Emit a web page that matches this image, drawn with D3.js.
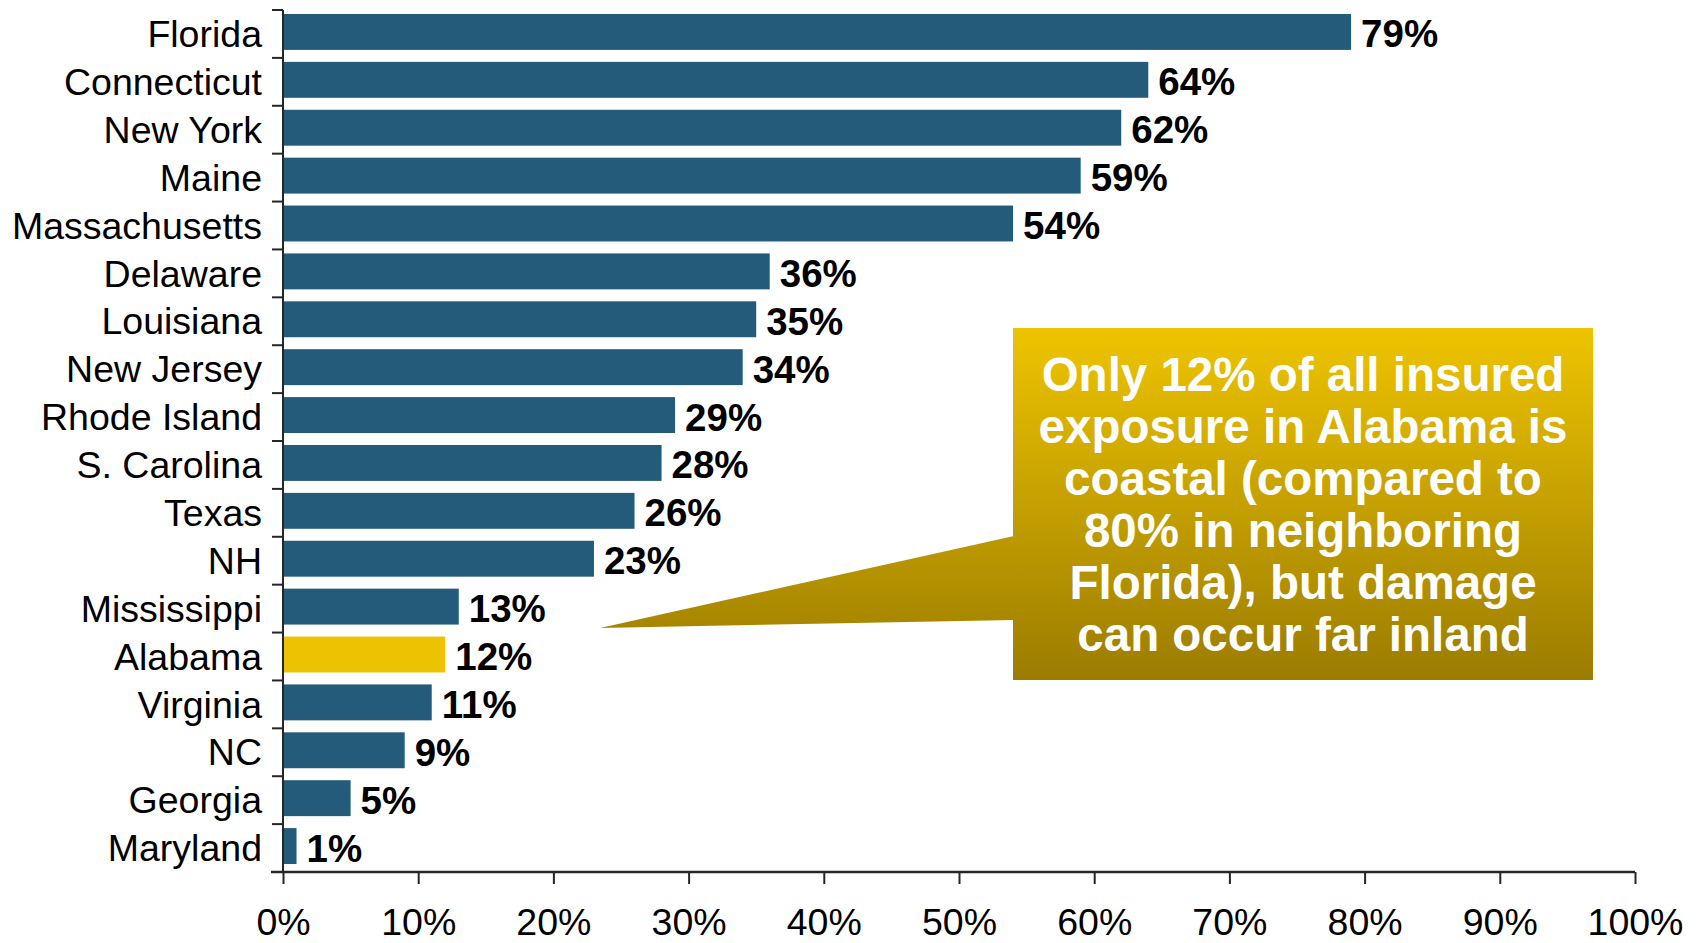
<!DOCTYPE html>
<html>
<head>
<meta charset="utf-8">
<script src="https://cdn.jsdelivr.net/npm/d3@7"></script>
<style>
  html, body { margin: 0; padding: 0; background: #fff; }
  svg { display: block; font-family: "Liberation Sans", Arial, sans-serif; }
</style>
</head>
<body>
<div id="chart"></div>
<script>
// share of insured exposure that is coastal, by state
const states = ['Florida', 'Connecticut', 'New York', 'Maine', 'Massachusetts', 'Delaware',
    'Louisiana', 'New Jersey', 'Rhode Island', 'S. Carolina', 'Texas', 'NH',
    'Mississippi', 'Alabama', 'Virginia', 'NC', 'Georgia', 'Maryland'];
const shares = [79, 64, 62, 59, 54, 36, 35, 34, 29, 28, 26, 23, 13, 12, 11, 9, 5, 1];
const highlight = 'Alabama';
const xTicks = [0, 10, 20, 30, 40, 50, 60, 70, 80, 90, 100];
const calloutLines = [
    'Only 12% of all insured',
    'exposure in Alabama is',
    'coastal (compared to',
    '80% in neighboring',
    'Florida), but damage',
    'can occur far inland'
];

const width = 1698, height = 943;
const margin = { top: 10, right: 63, bottom: 71, left: 283 };
const innerW = width - margin.left - margin.right;
const innerH = height - margin.top - margin.bottom;

const data = states.map((s, i) => ({ state: s, value: shares[i] }));

const svg = d3.select('#chart')
    .append('svg')
    .attr('width', width)
    .attr('height', height);

// gradient for the callout
const defs = svg.append('defs');
const grad = defs.append('linearGradient')
    .attr('id', 'gold')
    .attr('gradientUnits', 'userSpaceOnUse')
    .attr('x1', 0).attr('x2', 0)
    .attr('y1', 328).attr('y2', 680);
grad.append('stop').attr('offset', '0%').attr('stop-color', '#EEC400');
grad.append('stop').attr('offset', '100%').attr('stop-color', '#9B7C00');

const g = svg.append('g')
    .attr('transform', `translate(${margin.left},${margin.top})`);

// Scales
const x = d3.scaleLinear().domain([0, 100]).range([0, innerW]);
const y = d3.scaleBand()
    .domain(states)
    .range([0, innerH])
    .paddingInner(0.25)
    .paddingOuter(0.125);

// Bars
g.append('g')
    .attr('transform', 'translate(0,-2)')
    .selectAll('rect')
    .data(data)
    .enter()
    .append('rect')
    .attr('x', 0)
    .attr('y', d => y(d.state))
    .attr('width', d => x(d.value))
    .attr('height', y.bandwidth())
    .attr('fill', d => d.state === highlight ? '#EDC200' : '#245B7A');

// Value labels
g.selectAll('.value-label')
    .data(data)
    .enter()
    .append('text')
    .attr('class', 'value-label')
    .attr('x', d => x(d.value) + 10)
    .attr('y', d => y(d.state) + y.bandwidth() / 2)
    .attr('dy', '0.35em')
    .style('font-size', '38.5px')
    .style('font-weight', 'bold')
    .style('fill', '#000')
    .text(d => d.value + '%');

// Y axis: category labels + ticks at band boundaries
const axisColor = '#262626';
g.append('line')
    .attr('x1', 0).attr('x2', 0)
    .attr('y1', 0).attr('y2', innerH)
    .attr('stroke', axisColor)
    .attr('stroke-width', 2);

const boundaries = states.map(s => y(s) - y.step() * y.paddingInner() / 2).concat([innerH]);
g.selectAll('.y-tick')
    .data(boundaries)
    .enter()
    .append('line')
    .attr('class', 'y-tick')
    .attr('x1', -11).attr('x2', 0)
    .attr('y1', d => d).attr('y2', d => d)
    .attr('stroke', axisColor)
    .attr('stroke-width', 2);

g.selectAll('.cat-label')
    .data(states)
    .enter()
    .append('text')
    .attr('class', 'cat-label')
    .attr('x', -21)
    .attr('y', d => y(d) + y.bandwidth() / 2)
    .attr('dy', '0.35em')
    .attr('text-anchor', 'end')
    .style('font-size', '37.5px')
    .style('fill', '#000')
    .text(d => d);

// X axis
const xAxis = g.append('g')
    .attr('transform', `translate(0,${innerH})`)
    .call(d3.axisBottom(x)
        .tickValues(xTicks)
        .tickFormat(d => d + '%')
        .tickSize(12)
        .tickPadding(24));

xAxis.select('.domain')
    .attr('stroke', axisColor)
    .attr('stroke-width', 2.5)
    .attr('d', `M${-12},0H${innerW}`);
xAxis.selectAll('.tick line')
    .attr('stroke', axisColor)
    .attr('stroke-width', 2);
xAxis.selectAll('.tick text')
    .style('font-size', '37.5px')
    .style('font-family', '"Liberation Sans", Arial, sans-serif')
    .style('fill', '#000');

// Callout box with pointer toward Alabama
const box = { x: 1013, y: 328, w: 580, h: 352 };
const tip = [600, 628];
svg.append('path')
    .attr('d', `M${tip[0]},${tip[1]}L${box.x + 1},536L${box.x + 1},620Z`)
    .attr('fill', 'url(#gold)');
svg.append('rect')
    .attr('x', box.x)
    .attr('y', box.y)
    .attr('width', box.w)
    .attr('height', box.h)
    .attr('fill', 'url(#gold)');

svg.append('g')
    .selectAll('text')
    .data(calloutLines)
    .enter()
    .append('text')
    .attr('x', box.x + box.w / 2)
    .attr('y', (d, i) => 374 + i * 52)
    .attr('dy', '0.35em')
    .attr('text-anchor', 'middle')
    .style('font-size', '47.5px')
    .style('font-weight', 'bold')
    .style('fill', '#fff')
    .text(d => d);
</script>
</body>
</html>
